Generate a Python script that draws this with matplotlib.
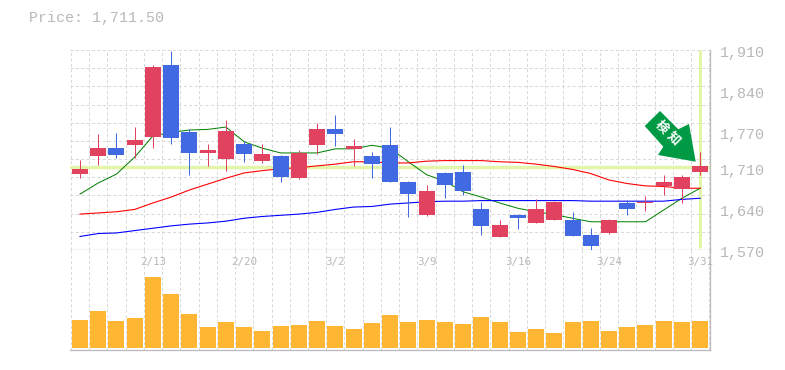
import numpy as np
import matplotlib
matplotlib.use("Agg")
import matplotlib.pyplot as plt
from matplotlib.patches import Polygon

# daily prices
opens = [1699, 1730, 1743, 1749, 1762, 1884, 1771, 1735, 1725, 1750, 1721, 1730, 1692, 1749, 1776,
         1742, 1730, 1748, 1686, 1630, 1701, 1703, 1640, 1592, 1630, 1616, 1621, 1621, 1596, 1599,
         1650, 1650, 1679, 1674, 1703]
closes = [1708, 1743, 1731, 1757, 1881, 1760, 1735, 1740, 1772, 1733, 1733, 1694, 1735, 1776, 1767,
          1747, 1716, 1686, 1665, 1670, 1681, 1670, 1611, 1612, 1624, 1640, 1652, 1594, 1577, 1621,
          1640, 1652, 1686, 1694, 1712]
highs = [1723, 1767, 1769, 1779, 1884, 1908, 1776, 1750, 1791, 1755, 1750, 1731, 1740, 1786, 1799,
         1759, 1737, 1779, 1687, 1680, 1703, 1714, 1652, 1621, 1631, 1657, 1653, 1635, 1607, 1623,
         1655, 1662, 1697, 1697, 1737]
lows = [1692, 1714, 1726, 1726, 1743, 1750, 1697, 1713, 1704, 1720, 1718, 1686, 1691, 1733, 1747,
        1713, 1692, 1686, 1626, 1628, 1658, 1663, 1595, 1592, 1606, 1616, 1621, 1594, 1570, 1597,
        1630, 1636, 1663, 1650, 1697]
ma_short = [1665, 1684, 1699, 1728, 1764, 1770, 1774, 1775, 1779, 1754, 1743, 1735, 1735, 1735, 1742,
            1742, 1748, 1743, 1720, 1698, 1687, 1669, 1660, 1650, 1641, 1635, 1630, 1624, 1618, 1618,
            1618, 1618, 1638, 1658, 1675]
ma_mid = [1631, 1633, 1635, 1639, 1650, 1660, 1672, 1682, 1692, 1701, 1705, 1708, 1710, 1713, 1716,
          1720, 1720, 1718, 1718, 1721, 1722, 1722, 1722, 1720, 1719, 1716, 1712, 1707, 1700, 1689,
          1683, 1679, 1678, 1675, 1675]
ma_long = [1593, 1598, 1599, 1603, 1607, 1611, 1614, 1616, 1619, 1624, 1627, 1629, 1631, 1634, 1639,
           1643, 1644, 1648, 1650, 1652, 1653, 1653, 1654, 1654, 1654, 1654, 1654, 1654, 1653, 1653,
           1653, 1653, 1653, 1656, 1658]
volume = [27.7, 36.7, 26.7, 29.7, 70.7, 53.7, 33.7, 20.7, 25.7, 20.7, 16.7, 21.7, 22.7, 26.7, 21.7,
          18.7, 24.7, 32.7, 25.7, 27.7, 25.7, 23.7, 30.7, 25.7, 15.7, 18.7, 14.7, 25.7, 26.7, 16.7,
          20.7, 22.7, 26.7, 25.7, 26.7]
date_pos = [4, 9, 14, 19, 24, 29, 34]
date_labels = ["2/13", "2/20", "3/2", "3/9", "3/16", "3/24", "3/31"]
price_ticks = [1570, 1640, 1710, 1770, 1840, 1910]
last_price = 1711.50

W, H = 785, 370
GRID = "#d8d8d8"
AXIS = "#bbbbbb"
TEXT = "#b8b8b8"
UP = "#e0425f"
DOWN = "#4169e1"
HILITE = "#e3f5a9"
ARROW = "#009944"
MONO = "Liberation Mono"
PX = 0.72  # one pixel in points at dpi 100
DASH = (0, (3, 2.4))


def box(x0, y0, x1, y1):
    # pixel box measured from the top left -> figure fractions
    return [x0 / W, 1 - y1 / H, (x1 - x0) / W, (y1 - y0) / H]


fig = plt.figure(figsize=(W / 100, H / 100), dpi=100)
ax = fig.add_axes(box(70, 50, 709.5, 250))
vol = fig.add_axes(box(70, 250, 709.5, 350))

x = np.arange(len(opens))
o, c, h, l = map(np.array, (opens, closes, highs, lows))
colors = [UP if b >= a else DOWN for a, b in zip(o, c)]

for a in (ax, vol):
    a.set_xlim(-0.548, 34.51)
    a.set_xticks(np.arange(-0.5, 35), minor=True)
    a.set_xticks([])
    a.tick_params(which="both", length=0, labelbottom=False, labelleft=False)
    a.grid(True, which="minor", axis="x", color=GRID, lw=PX, linestyle=DASH, zorder=0)
    a.set_axisbelow(True)
    a.spines["left"].set_visible(False)
    a.spines["top"].set_visible(False)
    for s in ("right", "bottom"):
        a.spines[s].set_color(AXIS)
        a.spines[s].set_linewidth(PX * 1.3)

ax.set_ylim(1570, 1910)
ax.set_yticks([])
ax.set_yticks(np.linspace(1570, 1910, 12), minor=True)
ax.grid(True, which="minor", axis="y", color=GRID, lw=PX, linestyle=DASH, zorder=0)

# last price cross hair
ax.axhline(last_price, color=HILITE, lw=PX * 3.4, zorder=1)
ax.plot([x[-1], x[-1]], [1573, 1910], color=HILITE, lw=PX * 3, zorder=1, solid_capstyle="butt")

# moving averages
ax.plot(x, ma_short, color="#008000", lw=PX, zorder=2)
ax.plot(x, ma_mid, color="#ff0000", lw=PX * 1.1, zorder=2)
ax.plot(x, ma_long, color="#0000ff", lw=PX * 1.1, zorder=2)

# candles
ax.vlines(x, l, h, colors=colors, lw=PX, zorder=3)
ax.bar(x, np.maximum(np.abs(c - o), 1.5), bottom=np.minimum(o, c), width=0.877, color=colors,
       linewidth=0, zorder=4)

for p in price_ticks:
    ax.annotate(f"{p:,}", (1, p), xycoords=("axes fraction", "data"), xytext=(7.2, -2.2),
                textcoords="offset points", family=MONO, fontsize=10.8, color=TEXT, va="center",
                annotation_clip=False)

# volume
vol.set_ylim(-2.3, 97.7)
vol.set_yticks([])
vol.bar(x, volume, width=0.877, color="#ffb733", linewidth=0, zorder=3)
for i, label in zip(date_pos, date_labels):
    vol.text(i, 0.88, label, transform=vol.get_xaxis_transform(), family="DejaVu Sans Mono", fontsize=7.8,
             color=TEXT, ha="center", va="center", clip_on=False)

# arrow pointing at the last candle, pixel outline of the badge
arrow_px = [(660, 111), (644.7, 126), (663.3, 146.7), (658, 155), (695.7, 161.7), (689, 124), (678.3, 129.3)]
arrow_fig = [(px / W, 1 - py / H) for px, py in arrow_px]
fig.add_artist(Polygon(arrow_fig, closed=True, transform=fig.transFigure, facecolor=ARROW, edgecolor="none",
                       zorder=6))
for ch, (tx, ty) in zip("検知", [(661.7, 127.3), (673, 139)]):
    fig.text(tx / W, 1 - ty / H, ch, family=["Noto Sans CJK JP", "DejaVu Sans"], fontsize=9.2, color="white",
             fontweight="bold", rotation=-45, ha="center", va="center", rotation_mode="anchor", zorder=7)

fig.text(29 / W, 1 - 18 / H, f"Price: {last_price:,.2f}", family=MONO, fontsize=10.8, color=TEXT,
         ha="left", va="center")

fig.savefig("out.png", dpi=100)
